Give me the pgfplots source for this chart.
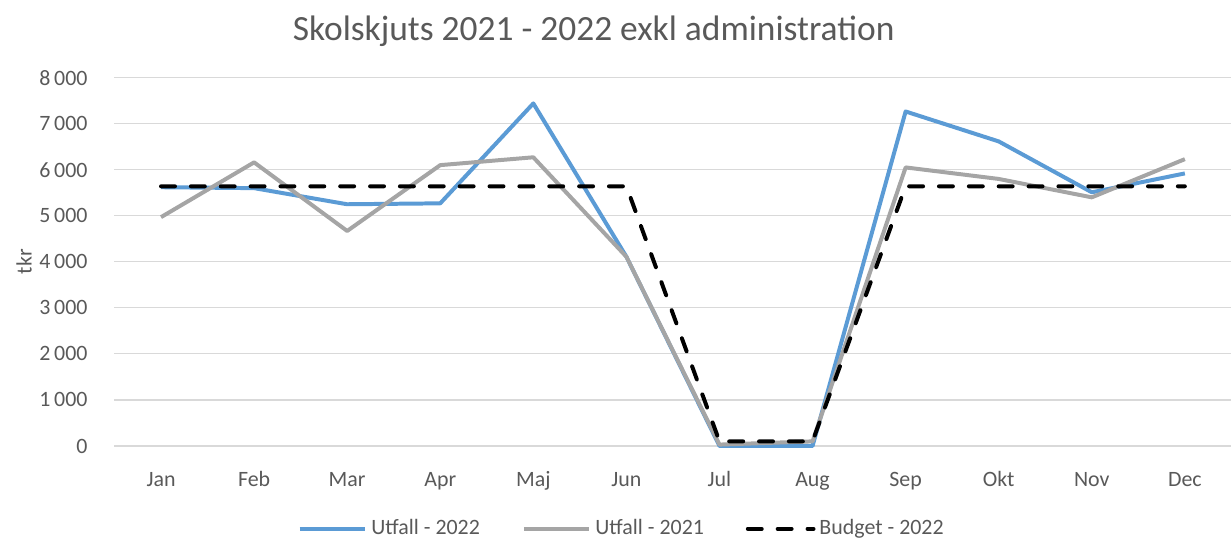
\documentclass[border=0pt]{standalone}
\usepackage{pgfplots}
\pgfplotsset{compat=1.18}
\usepackage{fontspec}
\setmainfont{Carlito}
\definecolor{txt}{HTML}{595959}
\definecolor{gridgray}{HTML}{D9D9D9}
\definecolor{blue22}{HTML}{5B9BD5}
\definecolor{gray21}{HTML}{A5A5A5}
\begin{document}
\begin{tikzpicture}
\begin{axis}[
  at={(0,0)}, anchor=south west,
  scale only axis, width=561pt, height=185pt,
  xmin=-0.5, xmax=11.5, ymin=0, ymax=8000,
  xtick={0,...,11},
  xticklabels={Jan,Feb,Mar,Apr,Maj,Jun,Jul,Aug,Sep,Okt,Nov,Dec},
  ytick={0,1000,...,8000},
  yticklabel={\pgfmathprintnumber[1000 sep={\,}]{\tick}},
  /pgf/number format/assume math mode=true,
  scaled y ticks=false,
  axis line style={draw=none},
  major tick length=0pt,
  xmajorgrids=false, ymajorgrids=true,
  grid style={draw=gridgray, line width=0.6pt},
  tick label style={font=\fontsize{11}{13}\selectfont, text=txt},
  xticklabel style={text height=8pt, text depth=2pt, yshift=-9pt},
  yticklabel style={xshift=-10pt},
  ylabel={tkr}, ylabel style={font=\fontsize{11}{13}\selectfont, text=txt, yshift=-3pt},
  legend columns=3,
  legend style={draw=none, fill=none, at={(0.455,-0.225)}, anchor=center,
    font=\fontsize{11}{13}\selectfont, text=txt,
    /tikz/every even column/.append style={column sep=19pt}},
  legend image code/.code={\draw[#1] (0pt,0pt) -- (33pt,0pt);},
  clip=false,
]
\addplot[blue22, line width=2pt, line join=round] coordinates {
(0,5620) (1,5600) (2,5250) (3,5270) (4,7440) (5,4110) (6,0) (7,0) (8,7265) (9,6615) (10,5510) (11,5920)};
\addlegendentry{Utfall - 2022}
\addplot[gray21, line width=2pt, line join=round] coordinates {
(0,4970) (1,6160) (2,4670) (3,6100) (4,6270) (5,4110) (6,30) (7,100) (8,6050) (9,5800) (10,5400) (11,6230)};
\addlegendentry{Utfall - 2021}
\addplot[black, line width=2pt, line cap=round, dash pattern=on 7pt off 8pt] coordinates {
(0,5640) (1,5640) (2,5640) (3,5640) (4,5640) (5,5640) (6,100) (7,100) (8,5640) (9,5640) (10,5640) (11,5640)};
\addlegendentry{Budget - 2022}
\node[font=\fontsize{17.8}{20}\selectfont, text=txt] at (rel axis cs:0.429,1.125) {Skolskjuts 2021 - 2022 exkl administration};
\end{axis}
\path[use as bounding box] (-57.5pt,-44.5pt) rectangle (558.5pt,224pt);
\end{tikzpicture}
\end{document}
